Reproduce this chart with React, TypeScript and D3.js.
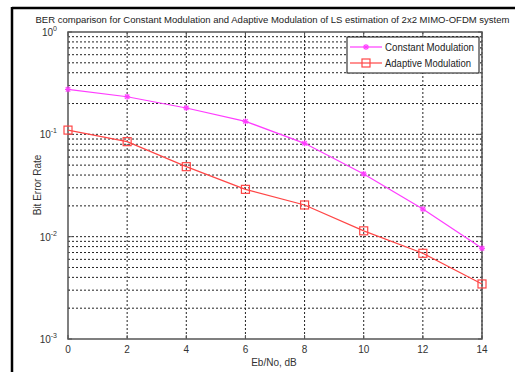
import React from "react";
import * as d3 from "d3";

const snrDb = [0, 2, 4, 6, 8, 10, 12, 14];
const constantBer = [0.275, 0.233, 0.181, 0.134, 0.0817, 0.041, 0.0186, 0.0077];
const adaptiveBer = [0.11, 0.0848, 0.0483, 0.029, 0.0204, 0.0114, 0.00688, 0.00345];
const xTicks = [0, 2, 4, 6, 8, 10, 12, 14];
const yDecades = [0, -1, -2, -3];
const titleText =
  "BER comparison for Constant Modulation and Adaptive Modulation of LS estimation of 2x2 MIMO-OFDM system";
const seriesNames = ["Constant Modulation", "Adaptive Modulation"];

const W = 515;
const H = 372;
const M = { left: 68, right: 482, top: 32, bottom: 339 };
const FONT = "'Liberation Sans', Arial, sans-serif";
const MAGENTA = "#ff3cff";
const RED = "#ff4646";

export default function App() {
  const x = d3.scaleLinear().domain([0, 14]).range([M.left, M.right]);
  const y = d3.scaleLog().domain([1e-3, 1]).range([M.bottom, M.top]);

  const minorVals: number[] = [];
  for (let e = -3; e < 0; e++) {
    for (let k = 2; k <= 9; k++) minorVals.push(k * Math.pow(10, e));
  }
  const majorVals = yDecades.map((e) => Math.pow(10, e));

  const line = d3
    .line<number>()
    .x((_, i) => x(snrDb[i]))
    .y((d) => y(d));

  const grid = "#222";
  const dash = "2,2";

  const star = (cx: number, cy: number, key: string) => (
    <g key={key} stroke={MAGENTA} strokeWidth={1.2}>
      <line x1={cx - 3} y1={cy} x2={cx + 3} y2={cy} />
      <line x1={cx} y1={cy - 3} x2={cx} y2={cy + 3} />
      <line x1={cx - 2.2} y1={cy - 2.2} x2={cx + 2.2} y2={cy + 2.2} />
      <line x1={cx - 2.2} y1={cy + 2.2} x2={cx + 2.2} y2={cy - 2.2} />
    </g>
  );
  const square = (cx: number, cy: number, key: string) => (
    <rect
      key={key}
      x={cx - 4}
      y={cy - 4}
      width={8}
      height={8}
      fill="none"
      stroke={RED}
      strokeWidth={1.2}
    />
  );

  return (
    <div style={{ position: "absolute", left: 0, top: 0 }}>
      <svg width={W} height={H} style={{ display: "block", background: "#fff" }}>
        <rect x={0} y={0} width={W} height={H} fill="#fff" />
        {/* outer screenshot frame */}
        <line x1={12} y1={8} x2={W} y2={8} stroke="#000" strokeWidth={2.5} />
        <line x1={12} y1={7} x2={12} y2={H} stroke="#000" strokeWidth={2.5} />

        {/* title */}
        <text
          x={272.5}
          y={23}
          textAnchor="middle"
          fontFamily={FONT}
          fontSize={9.6}
          fill="#222"
          textLength={474}
          lengthAdjust="spacingAndGlyphs"
        >
          {titleText}
        </text>

        {/* grid */}
        {xTicks.map((t) =>
          t === 0 || t === 14 ? null : (
            <line
              key={"gx" + t}
              x1={x(t)}
              x2={x(t)}
              y1={M.top}
              y2={M.bottom}
              stroke={grid}
              strokeWidth={1}
              strokeDasharray={dash}
            />
          )
        )}
        {[...minorVals, ...majorVals.slice(1, 3)].map((v, i) => (
          <line
            key={"gy" + i}
            x1={M.left}
            x2={M.right}
            y1={y(v)}
            y2={y(v)}
            stroke={grid}
            strokeWidth={1}
            strokeDasharray={dash}
          />
        ))}
        <line
          x1={M.right}
          x2={M.right}
          y1={M.top}
          y2={M.bottom}
          stroke={grid}
          strokeWidth={1}
          strokeDasharray={dash}
        />

        {/* axes box */}
        <rect
          x={M.left}
          y={M.top}
          width={M.right - M.left}
          height={M.bottom - M.top}
          fill="none"
          stroke="#555"
          strokeWidth={1.5}
        />
        {/* ticks */}
        {xTicks.map((t) => (
          <g key={"tx" + t} stroke="#555" strokeWidth={1}>
            <line x1={x(t)} x2={x(t)} y1={M.bottom} y2={M.bottom - 4} />
            <line x1={x(t)} x2={x(t)} y1={M.top} y2={M.top + 4} />
          </g>
        ))}
        {majorVals.map((v, i) => (
          <g key={"ty" + i} stroke="#555" strokeWidth={1}>
            <line x1={M.left} x2={M.left + 4} y1={y(v)} y2={y(v)} />
            <line x1={M.right} x2={M.right - 4} y1={y(v)} y2={y(v)} />
          </g>
        ))}
        {minorVals.map((v, i) => (
          <g key={"tm" + i} stroke="#555" strokeWidth={1}>
            <line x1={M.left} x2={M.left + 2} y1={y(v)} y2={y(v)} />
            <line x1={M.right} x2={M.right - 2} y1={y(v)} y2={y(v)} />
          </g>
        ))}

        {/* x tick labels */}
        {xTicks.map((t) => (
          <text
            key={"lx" + t}
            x={x(t)}
            y={353}
            textAnchor="middle"
            fontFamily={FONT}
            fontSize={10}
            fill="#333"
          >
            {t}
          </text>
        ))}
        {/* y tick labels */}
        {yDecades.map((e) => (
          <text
            key={"ly" + e}
            x={57}
            y={y(Math.pow(10, e)) + 4}
            textAnchor="end"
            fontFamily={FONT}
            fontSize={10}
            fill="#333"
          >
            10
            <tspan dy={-5} fontSize={7}>
              {e}
            </tspan>
          </text>
        ))}

        {/* axis labels */}
        <text
          x={274}
          y={366}
          textAnchor="middle"
          fontFamily={FONT}
          fontSize={10}
          fill="#333"
        >
          Eb/No, dB
        </text>
        <text
          transform={`translate(41,185) rotate(-90)`}
          textAnchor="middle"
          fontFamily={FONT}
          fontSize={10}
          fill="#333"
        >
          Bit Error Rate
        </text>

        {/* series */}
        <path d={line(constantBer) || ""} fill="none" stroke={MAGENTA} strokeWidth={1.2} />
        <path d={line(adaptiveBer) || ""} fill="none" stroke={RED} strokeWidth={1.2} />
        {constantBer.map((v, i) => star(x(snrDb[i]), y(v), "s" + i))}
        {adaptiveBer.map((v, i) => square(x(snrDb[i]), y(v), "q" + i))}

        {/* legend */}
        <rect x={347} y={37} width={132} height={36} fill="#fff" stroke="#111" strokeWidth={1} />
        <line x1={350} x2={382} y1={47} y2={47} stroke={MAGENTA} strokeWidth={1.2} />
        {star(366, 47, "ls")}
        <line x1={350} x2={382} y1={63} y2={63} stroke={RED} strokeWidth={1.2} />
        {square(366, 63, "lq")}
        <text x={385} y={51} fontFamily={FONT} fontSize={10} fill="#222" textLength={89} lengthAdjust="spacingAndGlyphs">
          {seriesNames[0]}
        </text>
        <text x={385} y={67} fontFamily={FONT} fontSize={10} fill="#222" textLength={86} lengthAdjust="spacingAndGlyphs">
          {seriesNames[1]}
        </text>
      </svg>
    </div>
  );
}
